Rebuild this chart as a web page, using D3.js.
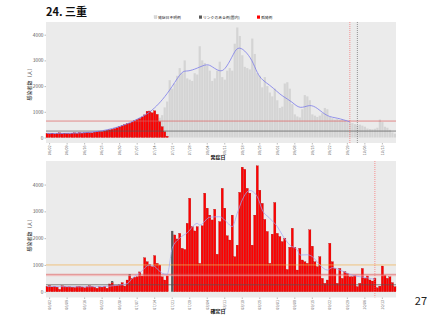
<!DOCTYPE html>
<html>
<head>
<meta charset="utf-8">
<script src="https://cdn.jsdelivr.net/npm/d3@7"></script>
<style>
  body { margin: 0; background: #fff; }
  text { font-family: "Noto Sans CJK JP", "Noto Sans", sans-serif; }
</style>
</head>
<body>
<svg id="chart" width="427" height="320"></svg>
<script>
// ---- data ----
const firstDay = "06/01";
const lastDay = "10/18";
const tickLabels = ["06/02","06/09","06/16","06/23","06/30","07/07","07/14","07/21","07/28","08/04",
  "08/11","08/18","08/25","09/01","09/08","09/15","09/22","09/29","10/06","10/13"];

// top panel (onset date)
const topRedStart = "06/01";
const topRed = [160,150,170,140,160,180,150,170,160,150,170,180,160,190,170,180,200,190,180,210,
  220,240,230,260,280,300,320,350,380,420,460,500,540,560,
  600,650,700,740,800,880,1020,1030,960,1040,900,620,420,220,50];
const topGrayStart = "07/16";
const topGray = [150,450,950,1350,2230,1900,2100,2400,2700,2500,3000,2300,2250,2200,2500,2450,3550,3000,
  2900,2800,2600,2200,2300,2600,2950,2350,2250,2600,2700,2600,3650,4280,3950,3200,2750,2700,2650,3850,
  3250,2500,2400,1950,2350,2000,1750,1600,1900,1450,1150,1200,2100,2150,1900,1300,900,820,780,1100,
  1650,1600,1450,900,850,800,850,950,1150,1100,800,750,700,720,680,700,650,600,580,560,520,480,500,
  460,420,350,330,320,340,380,700,600,420,380,300,200,150];
const topLineDays = ["06/01","06/08","06/15","06/22","06/29","07/04","07/07","07/11","07/14","07/17",
  "07/21","07/25","07/27","07/31","08/04","08/06","08/09","08/11","08/14","08/16","08/19","08/22",
  "08/24","08/26","08/29","09/01","09/03","09/07","09/10","09/14","09/17","09/21","09/25","09/30"];
const topLineValues = [160,160,175,230,390,560,720,900,1150,1450,1970,2620,2560,2690,2880,2750,2560,
  2620,3140,3560,3400,3010,2490,2230,2040,1780,1610,1390,1090,1300,1150,805,766,610];
const topHLines = [640, 250];
const topHColors = ["#e06060", "#555555"];
const topVLines = ["09/30", "10/03"];
const topVColors = ["#ff5050", "#555555"];

// bottom panel (confirmation date)
const bottomRedStart = "06/01";
const bottomRed = [200,230,180,210,170,90,220,200,180,190,170,160,200,210,180,150,190,220,200,170,130,
  190,170,210,130,290,340,240,240,260,340,210,437,590,500,540,560,740,590,
  1270,1120,1030,936,1350,1060,1000,560,437,590,0,0,
  2120,1970,2180,1620,1580,2555,3490,2430,2270,2430,1060,2460,3680,3120,2860,2680,3080,1400,2620,3860,
  3120,2090,1930,2860,1310,1740,3710,4650,4570,3860,3680,1740,2860,4700,3790,3300,2700,2250,1060,2150,
  3330,2180,2060,
  1870,2000,830,1660,2370,1660,810,1620,1185,1120,1060,2310,1700,1120,936,1310,500,313,437,1810,1120,
  870,313,870,500,750,690,560,560,620,190,313,870,500,590,440,400,500,150,210,960,620,500,560,340,190];
const bottomLinkDays = ["06/27", "07/04", "07/21"];
const bottomLinkValues = [60, 70, 2270];
const bottomLineDays = ["06/01","06/08","06/15","06/22","06/29","07/03","07/05","07/08","07/12","07/14",
  "07/17","07/19","07/21","07/24","07/27","07/31","08/01","08/05","08/09","08/12","08/14","08/16",
  "08/18","08/21","08/24","08/26","08/29","09/01","09/03","09/06","09/09","09/10","09/13","09/15",
  "09/18","09/21","09/23","09/26","09/29","10/01","10/04","10/07","10/10"];
const bottomLineValues = [200,190,185,190,240,300,500,700,1000,940,690,650,1620,2000,2200,2550,2490,
  2780,2800,2580,2430,2930,3430,3780,3550,3050,2740,2430,2120,1740,1560,1370,1380,1310,1000,810,900,
  810,690,620,560,520,460];
const bottomHLines = [1000, 650, 600, 260];
const bottomHColors = ["#f0b050", "#e06060", "#f4a0a0", "#555555"];
const bottomVLines = ["10/10"];
const bottomVColors = ["#ff5050"];

const legendLabels = ["発症日不明例", "リンクのある例(国内)", "孤発例"];
const legendColors = ["#d9d9d9", "#595959", "#ff0000"];

// ---- setup ----
const svg = d3.select("#chart");
const parse = d3.timeParse("%Y/%m/%d");
const fmt = d3.timeFormat("%m/%d");
const toDate = s => parse("2020/" + s);
const days = d3.timeDay.range(toDate(firstDay), d3.timeDay.offset(toDate(lastDay), 1)).map(fmt);
const dayIndex = s => days.indexOf(s);

const left = 46, right = 396;
const x = d3.scaleBand().domain(days).range([left, right]).paddingInner(0.12);
const cx = s => x(s) + x.bandwidth() / 2;

svg.append("text").attr("x", 46).attr("y", 15.5)
  .attr("font-size", 11).attr("font-weight", "bold").attr("fill", "#111")
  .text("24. 三重");

svg.append("text").attr("x", 427).attr("y", 305).attr("text-anchor", "end")
  .attr("font-size", 11).attr("fill", "#222").text("27");

// legend
const legX = [154, 199, 257];
legendLabels.forEach((lab, i) => {
  svg.append("rect").attr("x", legX[i]).attr("y", 15.5).attr("width", 3).attr("height", 3.2)
    .attr("fill", legendColors[i]).attr("stroke", i == 0 ? "#bbb" : "none").attr("stroke-width", 0.2);
  svg.append("text").attr("x", legX[i] + 4).attr("y", 18.6).attr("font-size", 3.8)
    .attr("fill", "#222").text(lab);
});

function panel(top, bottom, yDomain, xTitle, xTitleY, yTitleY) {
  const g = svg.append("g");
  g.append("rect").attr("x", left).attr("y", top).attr("width", right - left)
    .attr("height", bottom - top).attr("fill", "#ebebeb");
  const y = d3.scaleLinear().domain(yDomain).range([bottom, top]);

  const ya = g.append("g").attr("transform", `translate(${left},0)`)
    .call(d3.axisLeft(y).tickValues([0, 1000, 2000, 3000, 4000]).tickFormat(d3.format("d"))
      .tickSize(1.5).tickPadding(1));
  ya.select(".domain").remove();
  ya.selectAll("line").attr("stroke", "#555").attr("stroke-width", 0.4);
  ya.selectAll("text").attr("font-size", 4.8).attr("fill", "#555");

  const xa = g.append("g").attr("transform", `translate(0,${bottom})`)
    .call(d3.axisBottom(x).tickValues(tickLabels).tickSize(1.5));
  xa.select(".domain").remove();
  xa.selectAll("line").attr("stroke", "#555").attr("stroke-width", 0.4);
  xa.selectAll("text").attr("font-size", 3.7).attr("fill", "#555")
    .attr("transform", "rotate(-90)").attr("x", -2.5).attr("y", 0).attr("dy", "0.35em")
    .style("text-anchor", "end");

  svg.append("text").attr("x", (left + right) / 2 - 3).attr("y", xTitleY)
    .attr("text-anchor", "middle").attr("font-size", 5).attr("font-weight", "bold")
    .attr("fill", "#111").text(xTitle);
  svg.append("text").attr("transform", `translate(31,${yTitleY}) rotate(-90)`)
    .attr("text-anchor", "middle").attr("font-size", 5).attr("fill", "#111")
    .text("感染者数（人）");
  return { g, y, top, bottom };
}

function hlines(p, vals, cols) {
  vals.forEach((v, i) => {
    p.g.append("line").attr("x1", left).attr("x2", right).attr("y1", p.y(v)).attr("y2", p.y(v))
      .attr("stroke", cols[i]).attr("stroke-width", 0.7);
  });
}
function vlines(p, ds, cols) {
  ds.forEach((d, i) => {
    p.g.append("line").attr("x1", cx(d)).attr("x2", cx(d)).attr("y1", p.top).attr("y2", p.bottom)
      .attr("stroke", cols[i]).attr("stroke-width", 0.6).attr("stroke-dasharray", "1,1");
  });
}

// ---- top panel ----
const pt = panel(22, 143, [-214, 4494], "発症日", 158.5, 83);
const redStartT = dayIndex(topRedStart);
const redAt = i => (i - redStartT >= 0 && i - redStartT < topRed.length) ? topRed[i - redStartT] : 0;
const grayStartT = dayIndex(topGrayStart);

pt.g.append("g").selectAll("rect").data(topGray).join("rect")
  .attr("x", (d, i) => x(days[grayStartT + i]))
  .attr("y", (d, i) => pt.y(redAt(grayStartT + i) + d))
  .attr("width", x.bandwidth())
  .attr("height", (d, i) => pt.y(redAt(grayStartT + i)) - pt.y(redAt(grayStartT + i) + d))
  .attr("fill", "#d4d4d4");

pt.g.append("g").selectAll("rect").data(topRed).join("rect")
  .attr("x", (d, i) => x(days[redStartT + i]))
  .attr("y", d => pt.y(d))
  .attr("width", x.bandwidth())
  .attr("height", d => pt.y(0) - pt.y(d))
  .attr("fill", "#ff0000").attr("stroke", "#a00000").attr("stroke-width", 0.25);

hlines(pt, topHLines, topHColors);
vlines(pt, topVLines, topVColors);

pt.g.append("path")
  .datum(topLineDays.map((d, i) => [cx(d), pt.y(topLineValues[i])]))
  .attr("d", d3.line().curve(d3.curveBasis))
  .attr("fill", "none").attr("stroke", "#7b7bea").attr("stroke-width", 0.8);

// ---- bottom panel ----
const pb = panel(161, 297.5, [-215, 4880], "確定日", 312.5, 234);
const redStartB = dayIndex(bottomRedStart);

pb.g.append("g").selectAll("rect").data(bottomRed).join("rect")
  .attr("x", (d, i) => x(days[redStartB + i]))
  .attr("y", d => pb.y(d))
  .attr("width", x.bandwidth())
  .attr("height", d => pb.y(0) - pb.y(d))
  .attr("fill", "#ff0000").attr("stroke", "#a00000").attr("stroke-width", 0.25);

pb.g.append("g").selectAll("rect").data(bottomLinkValues).join("rect")
  .attr("x", (d, i) => x(bottomLinkDays[i]))
  .attr("y", (d, i) => pb.y(bottomRed[dayIndex(bottomLinkDays[i]) - redStartB] + d))
  .attr("width", x.bandwidth())
  .attr("height", (d, i) => {
    const base = bottomRed[dayIndex(bottomLinkDays[i]) - redStartB];
    return pb.y(base) - pb.y(base + d);
  })
  .attr("fill", "#595959");

hlines(pb, bottomHLines, bottomHColors);
vlines(pb, bottomVLines, bottomVColors);

pb.g.append("path")
  .datum(bottomLineDays.map((d, i) => [cx(d), pb.y(bottomLineValues[i])]))
  .attr("d", d3.line().curve(d3.curveMonotoneX))
  .attr("fill", "none").attr("stroke", "#a0a4f4").attr("stroke-width", 0.8).attr("opacity", 0.9);
</script>
</body>
</html>
